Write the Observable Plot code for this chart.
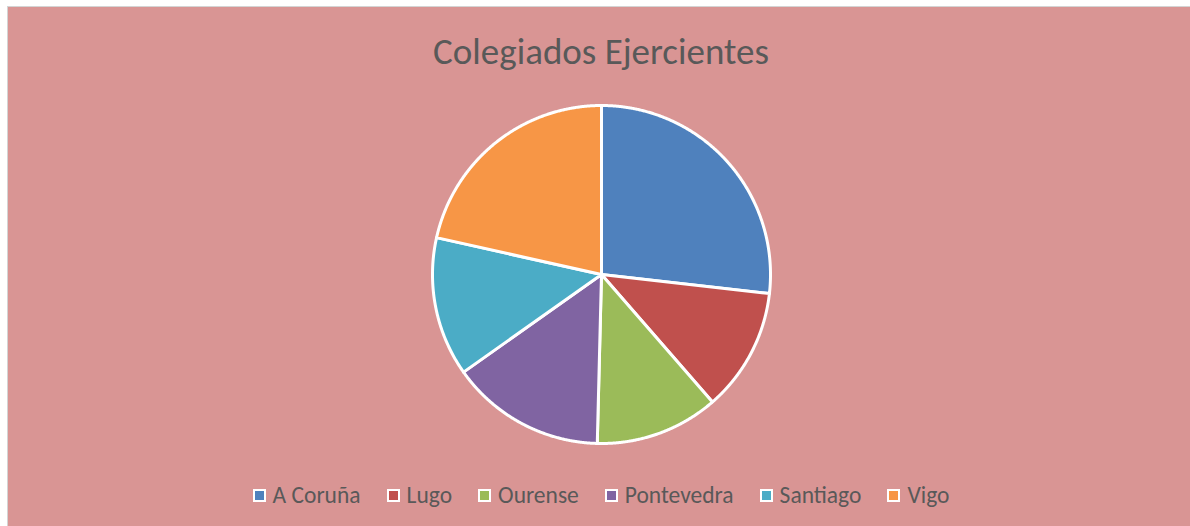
<!DOCTYPE html>
<html>
<head>
<meta charset="utf-8">
<script src="https://cdn.jsdelivr.net/npm/d3@7"></script>
<script src="https://cdn.jsdelivr.net/npm/@observablehq/plot@0.6"></script>
<style>
  html, body { margin: 0; padding: 0; background: #ffffff; overflow: hidden; }
  #frame {
    position: absolute; left: 7px; top: 6px; width: 1200px; height: 540px;
    border-left: 1px solid #d4d4d4; border-top: 1px solid #d4d4d4;
    background: #D99594;
    font-family: Carlito, Calibri, Lato, "Open Sans", sans-serif;
    color: #595959;
  }
  #title {
    width: 1186px; height: 93px; box-sizing: border-box; padding-top: 23px;
    text-align: center; font-size: 37px; line-height: 44px;
  }
  #chart svg { display: block; background: transparent; }
  #legend {
    width: 1186px; display: flex; justify-content: center; align-items: center;
    margin-top: 33px; font-size: 23.5px; line-height: 28px;
  }
  .item { display: flex; align-items: center; margin: 0 13px; }
  .sw { width: 9px; height: 9px; border: 2px solid #ffffff; margin-right: 7px; }
</style>
</head>
<body>
<div id="frame">
  <div id="title"></div>
  <div id="chart"></div>
  <div id="legend"></div>
</div>
<script>
const titleText = "Colegiados Ejercientes";
const categories = ["A Coruña", "Lugo", "Ourense", "Pontevedra", "Santiago", "Vigo"];
const values = [268, 118, 118, 148, 133, 215];
const colors = ["#4F81BD", "#C0504D", "#9BBB59", "#8064A2", "#4BACC6", "#F79646"];

document.getElementById("title").textContent = titleText;

const W = 1186, H = 348, R = 169;
const data = categories.map((name, i) => ({name, value: values[i]}));
const arcs = d3.pie().sort(null).value(d => d.value).startAngle(0).endAngle(2 * Math.PI)(data);

// Build slice outlines (center → arc → center) from the pie angles
const pts = [];
for (const a of arcs) {
  const name = a.data.name;
  pts.push({name, x: 0, y: 0});
  const n = Math.max(2, Math.ceil((a.endAngle - a.startAngle) / 0.005));
  for (let k = 0; k <= n; k++) {
    const t = a.startAngle + (a.endAngle - a.startAngle) * k / n;
    pts.push({name, x: Math.sin(t), y: Math.cos(t)});
  }
  pts.push({name, x: 0, y: 0});
}

const chart = Plot.plot({
  width: W,
  height: H,
  margin: 0,
  style: {background: "transparent", overflow: "visible"},
  x: {domain: [-W / 2 / R, W / 2 / R], axis: null},
  y: {domain: [-H / 2 / R, H / 2 / R], axis: null},
  color: {domain: categories, range: colors},
  marks: [
    Plot.line(pts, {
      x: "x", y: "y", z: "name", fill: "name",
      stroke: "#ffffff", strokeWidth: 3, strokeLinejoin: "round", curve: "linear"
    })
  ]
});
document.getElementById("chart").appendChild(chart);

const legend = document.getElementById("legend");
categories.forEach((c, i) => {
  const item = document.createElement("div");
  item.className = "item";
  const sw = document.createElement("div");
  sw.className = "sw";
  sw.style.background = colors[i];
  const lab = document.createElement("span");
  lab.textContent = c;
  item.appendChild(sw);
  item.appendChild(lab);
  legend.appendChild(item);
});
</script>
</body>
</html>
